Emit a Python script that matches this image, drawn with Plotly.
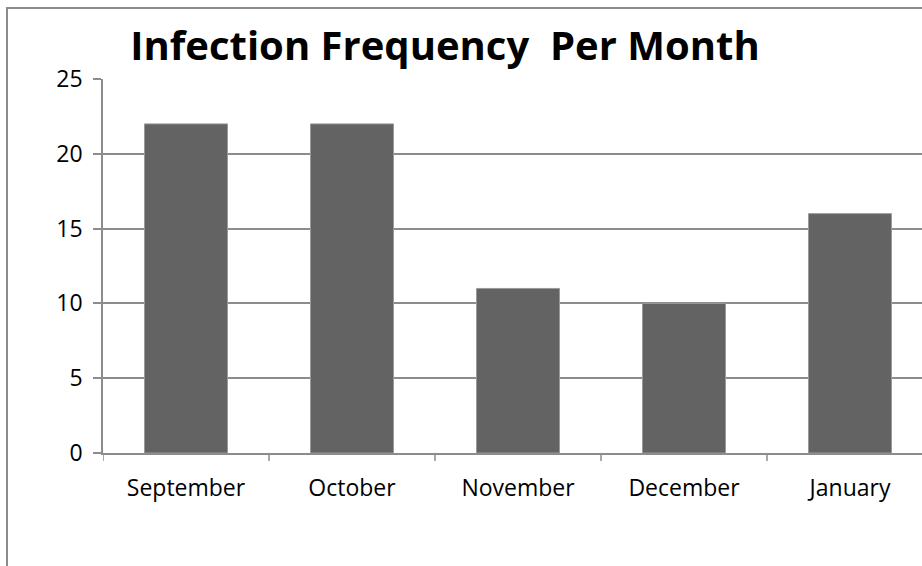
import plotly.graph_objects as go

months = ["September", "October", "November", "December", "January"]
infections = [22, 22, 11, 10, 16]
y_ticks = [0, 5, 10, 15, 20, 25]

W, H = 922, 566
L, R, T, B = 103, 0, 79, 113
pw = W - L - R
ph = H - T - B
cat_w = 166.0
xmax = (pw / cat_w) - 0.5

FONT = "'Open Sans', Lato, sans-serif"

fig = go.Figure(go.Bar(
    x=list(range(len(months))), y=infections,
    marker=dict(color="#636363", line=dict(color="#9a9a9a", width=1)),
    width=0.5,
))

grid = "#8c8c8c"
fig.update_layout(
    width=W, height=H,
    margin=dict(l=L, r=R, t=T, b=B, pad=0),
    paper_bgcolor="white", plot_bgcolor="white",
    showlegend=False,
    font=dict(family=FONT, size=23, color="black"),
    title=dict(text="<b>Infection Frequency  Per Month</b>",
               font=dict(size=40, family=FONT, color="black"),
               x=445 / W, xanchor="center", xref="container",
               y=1 - 46 / H, yanchor="middle", yref="container"),
    xaxis=dict(
        range=[-0.5, xmax],
        tickmode="array", tickvals=list(range(len(months))), ticktext=months,
        showgrid=False, showline=True, linecolor=grid, linewidth=1.5,
        ticks="", zeroline=False, tickfont=dict(size=23),
        ticklabelstandoff=14,
    ),
    yaxis=dict(
        range=[0, 25], tickmode="array", tickvals=y_ticks,
        showgrid=True, gridcolor=grid, gridwidth=1.5,
        showline=True, linecolor=grid, linewidth=1.5,
        ticks="outside", ticklen=8, tickcolor=grid, tickwidth=1.5,
        zeroline=False, tickfont=dict(size=23), ticklabelstandoff=6,
    ),
)

# category boundary ticks on x axis
shapes = []
for i in range(len(months) + 1):
    xb = i - 0.5
    if xb > xmax:
        break
    shapes.append(dict(type="line", xref="x", yref="paper", x0=xb, x1=xb,
                       y0=0, y1=-8 / ph, line=dict(color=grid, width=1.5)))
# outer chart border (extends past the window at right/bottom)
shapes.append(dict(type="rect", xref="paper", yref="paper",
                   x0=(7 - L) / pw, x1=(W + 20 - L) / pw,
                   y0=-(H + 20 - T - ph) / ph, y1=(ph + T - 8) / ph,
                   line=dict(color="#8c8c8c", width=2), fillcolor="rgba(0,0,0,0)", layer="below"))
fig.update_layout(shapes=shapes)

fig.write_html("out.html", config={"displayModeBar": False},
               post_script="document.body.style.margin='0';document.body.style.overflow='hidden';")
